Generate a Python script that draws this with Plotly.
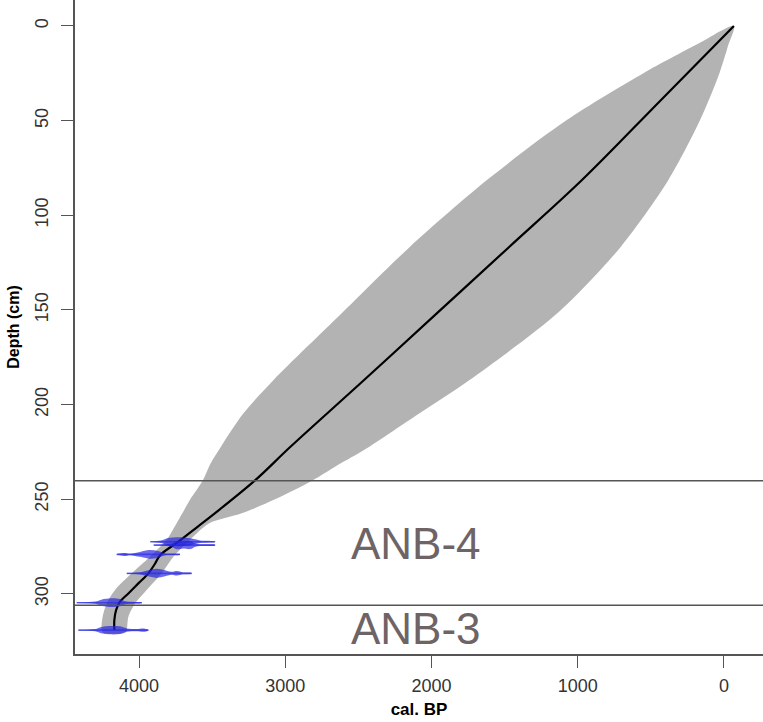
import plotly.graph_objects as go

# ---------------- data ----------------
# mean age-depth curve
curve_depth = [0, 40, 81.4, 116.6, 151.8, 187, 222, 240, 257.4, 264.5, 272.4, 279.5,
               283.9, 289.1, 294.4, 299.7, 304.1, 308.5, 313.8, 319]
curve_age = [-68, 442, 971, 1467, 1964, 2461, 2961, 3207, 3482, 3600, 3731, 3856,
             3890, 3936, 4005, 4073, 4130, 4157, 4169, 4169]

# 95% envelope
env_depth = [0, 10, 25, 50, 81.4, 116.6, 151.8, 187, 205, 222.2, 231, 240.2, 250,
             257.4, 262.7, 271.4, 280.3, 289.1, 297.9, 305, 312, 319, 320.5]
env_old = [-68, 190, 551, 1080, 1621, 2147, 2614, 3080, 3290, 3440, 3510, 3565, 3650,
           3704, 3743, 3811, 3925, 4050, 4164, 4221, 4249, 4256, 4245]
env_young = [-68, -30, 31, 165, 380, 705, 1140, 1740, 2090, 2425, 2620, 2817, 3070,
             3298, 3520, 3651, 3765, 3845, 3948, 4027, 4073, 4084, 4095]

# calibrated dates: depth, ages, half-height (cm) of probability shape
date_depths = [272.4, 274.2, 279.1, 289.1, 304.6, 319.1]
date_ages = [
    [3923, 3850, 3800, 3733, 3650, 3583, 3480],
    [3900, 3779, 3740, 3700, 3650, 3608, 3480],
    [4153, 4100, 4060, 3993, 3930, 3870, 3820, 3720],
    [4084, 3990, 3938, 3880, 3822, 3780, 3740, 3700, 3640],
    [4426, 4300, 4258, 4190, 4130, 4100, 4030, 3981],
    [4415, 4300, 4258, 4200, 4130, 4084, 4020, 3960, 3936],
]
date_heights = [
    [0.2, 0.7, 2.0, 2.4, 1.8, 0.7, 0.2],
    [0.2, 0.8, 2.2, 1.8, 2.1, 0.7, 0.2],
    [0.2, 0.8, 0.4, 1.3, 2.3, 1.8, 0.5, 0.2],
    [0.2, 0.6, 1.6, 2.4, 1.6, 0.8, 1.2, 0.5, 0.2],
    [0.2, 0.6, 1.6, 2.3, 1.9, 0.9, 0.4, 0.2],
    [0.2, 0.6, 1.7, 2.2, 2.0, 0.9, 0.6, 0.8, 0.2],
]

# zone boundaries and labels
zone_bounds = [240.2, 305.9]
zone_labels = ["ANB-4", "ANB-3"]
zone_label_age = [2106, 2106]
zone_label_depth = [273.6, 318]

x_ticks = [4000, 3000, 2000, 1000, 0]
y_ticks = [0, 50, 100, 150, 200, 250, 300]

# ---------------- figure ----------------
fig = go.Figure()

# envelope
fig.add_trace(go.Scatter(
    x=env_old + env_young[::-1],
    y=env_depth + env_depth[::-1],
    fill="toself", fillcolor="rgba(150,150,150,0.72)",
    line=dict(width=0, shape="spline", smoothing=0.8), mode="lines",
    hoverinfo="skip", showlegend=False,
))

# mean curve
fig.add_trace(go.Scatter(
    x=curve_age, y=curve_depth, mode="lines",
    line=dict(color="black", width=2.2, shape="spline"), showlegend=False,
))

# dates
for d, ages, hs in zip(date_depths, date_ages, date_heights):
    fig.add_trace(go.Scatter(
        x=[min(ages), max(ages)], y=[d, d], mode="lines",
        line=dict(color="rgba(40,40,220,0.6)", width=1.6), showlegend=False,
    ))
    fig.add_trace(go.Scatter(
        x=ages + ages[::-1],
        y=[d - h for h in hs] + [d + h for h in hs[::-1]],
        fill="toself", fillcolor="rgba(35,35,225,0.68)",
        line=dict(width=0, shape="spline"), mode="lines", showlegend=False,
    ))

# zone boundaries
for b in zone_bounds:
    fig.add_shape(type="line", xref="paper", x0=0, x1=1, yref="y", y0=b, y1=b,
                  line=dict(color="#555555", width=1.5))

for lab, a, d in zip(zone_labels, zone_label_age, zone_label_depth):
    fig.add_annotation(x=a, y=d, text=lab, showarrow=False,
                       font=dict(family="Liberation Sans, Arial", size=44, color="#6e6466"))

axis_font = dict(family="Liberation Sans, Arial", size=18, color="#333333")

fig.update_layout(
    width=763, height=722,
    margin=dict(l=75, r=0, t=0, b=68),
    plot_bgcolor="white", paper_bgcolor="white",
    xaxis=dict(
        range=[4438, -267], tickvals=x_ticks, ticktext=[str(v) for v in x_ticks],
        ticks="outside", ticklen=12, tickwidth=1.3, tickcolor="#555555",
        showline=True, linecolor="#555555", linewidth=1.5, showgrid=False,
        zeroline=False, tickfont=axis_font, ticklabelstandoff=3, automargin=False,
        title=dict(text="<b>cal. BP</b>", standoff=8,
                   font=dict(family="Liberation Sans, Arial", size=17, color="black")),
    ),
    yaxis=dict(
        range=[331.7, -13.7], tickvals=y_ticks, ticktext=[str(v) for v in y_ticks],
        ticks="outside", ticklen=12, tickwidth=1.3, tickcolor="#555555",
        showline=True, linecolor="#555555", linewidth=1.5, showgrid=False,
        zeroline=False, tickfont=axis_font, tickangle=-90, ticklabelstandoff=6,
        automargin=False,
        title=dict(text="<b>Depth (cm)</b>", standoff=8,
                   font=dict(family="Liberation Sans, Arial", size=16, color="black")),
    ),
)

fig.write_html(
    "out.html",
    config={"displayModeBar": False},
    post_script="document.body.style.margin='0';document.body.style.overflow='hidden';",
)
